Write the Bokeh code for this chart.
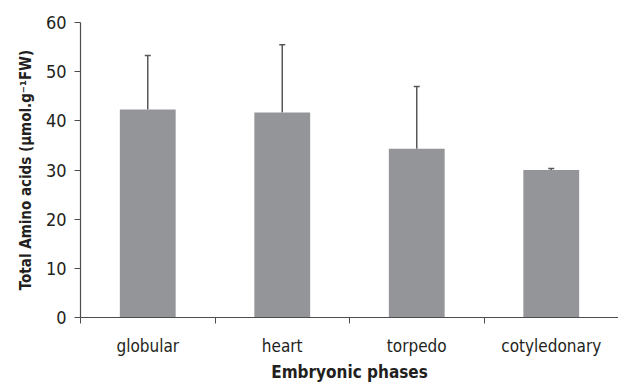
from bokeh.plotting import figure
from bokeh.models import ColumnDataSource, Whisker, TeeHead, FixedTicker, Range1d
from bokeh.embed import file_html
from bokeh.resources import INLINE

categories = ["globular", "heart", "torpedo", "cotyledonary"]
means = [42.3, 41.7, 34.3, 30.0]
upper_err = [53.3, 55.5, 47.0, 30.3]
y_ticks = [0, 10, 20, 30, 40, 50, 60]

FONT = "DejaVu Sans Condensed"
TXT = "#231f20"
AX = "#4d4d4f"
BAR = "#939598"

x = [i + 0.5 for i in range(len(categories))]
src = ColumnDataSource(dict(x=x, top=means, upper=upper_err, cat=categories))

p = figure(width=618, height=384, x_range=Range1d(0, 4.0), y_range=Range1d(0, 60),
           output_backend="svg", toolbar_location=None,
           min_border_left=80, min_border_right=0, min_border_top=22, min_border_bottom=64)
p.outline_line_color = None
p.xgrid.grid_line_color = None
p.ygrid.grid_line_color = None
p.background_fill_color = "white"
p.border_fill_color = "white"

p.vbar(x="x", top="top", width=0.415, bottom=0, source=src, fill_color=BAR, line_color=None)

w = Whisker(source=src, base="x", lower="top", upper="upper", dimension="height",
            line_color="#58585a", line_width=1.5,
            upper_head=TeeHead(size=6, line_color="#58585a", line_width=1.5), lower_head=None)
p.add_layout(w)

# x axis: labels at category centres, ticks at category boundaries
xa = p.xaxis[0]
xa.ticker = FixedTicker(ticks=x, minor_ticks=list(range(len(categories) + 1)))
xa.major_label_overrides = {xi: c for xi, c in zip(x, categories)}
xa.major_tick_line_color = None
xa.minor_tick_in = 0
xa.minor_tick_out = 6
xa.minor_tick_line_color = AX
xa.axis_line_color = AX
xa.axis_line_width = 1.2
xa.major_label_text_font = FONT
xa.major_label_text_font_size = "17px"
xa.major_label_text_color = TXT
xa.major_label_standoff = 12
xa.axis_label = "Embryonic phases"
xa.axis_label_text_font = FONT
xa.axis_label_text_font_style = "bold"
xa.axis_label_text_font_size = "17px"
xa.axis_label_text_color = TXT
xa.axis_label_standoff = 3

ya = p.yaxis[0]
ya.ticker = FixedTicker(ticks=y_ticks)
ya.minor_tick_line_color = None
ya.major_tick_in = 0
ya.major_tick_out = 6
ya.major_tick_line_color = AX
ya.axis_line_color = AX
ya.axis_line_width = 1.2
ya.major_label_text_font = FONT
ya.major_label_text_font_size = "18px"
ya.major_label_text_color = TXT
ya.major_label_standoff = 8
ya.axis_label = "Total Amino acids (\u03bcmol.g\u207b\u00b9FW)"
ya.axis_label_text_font = FONT
ya.axis_label_text_font_style = "bold"
ya.axis_label_text_font_size = "15px"
ya.axis_label_text_color = TXT
ya.axis_label_standoff = 8

open("out.html", "w").write(file_html(p, INLINE))
